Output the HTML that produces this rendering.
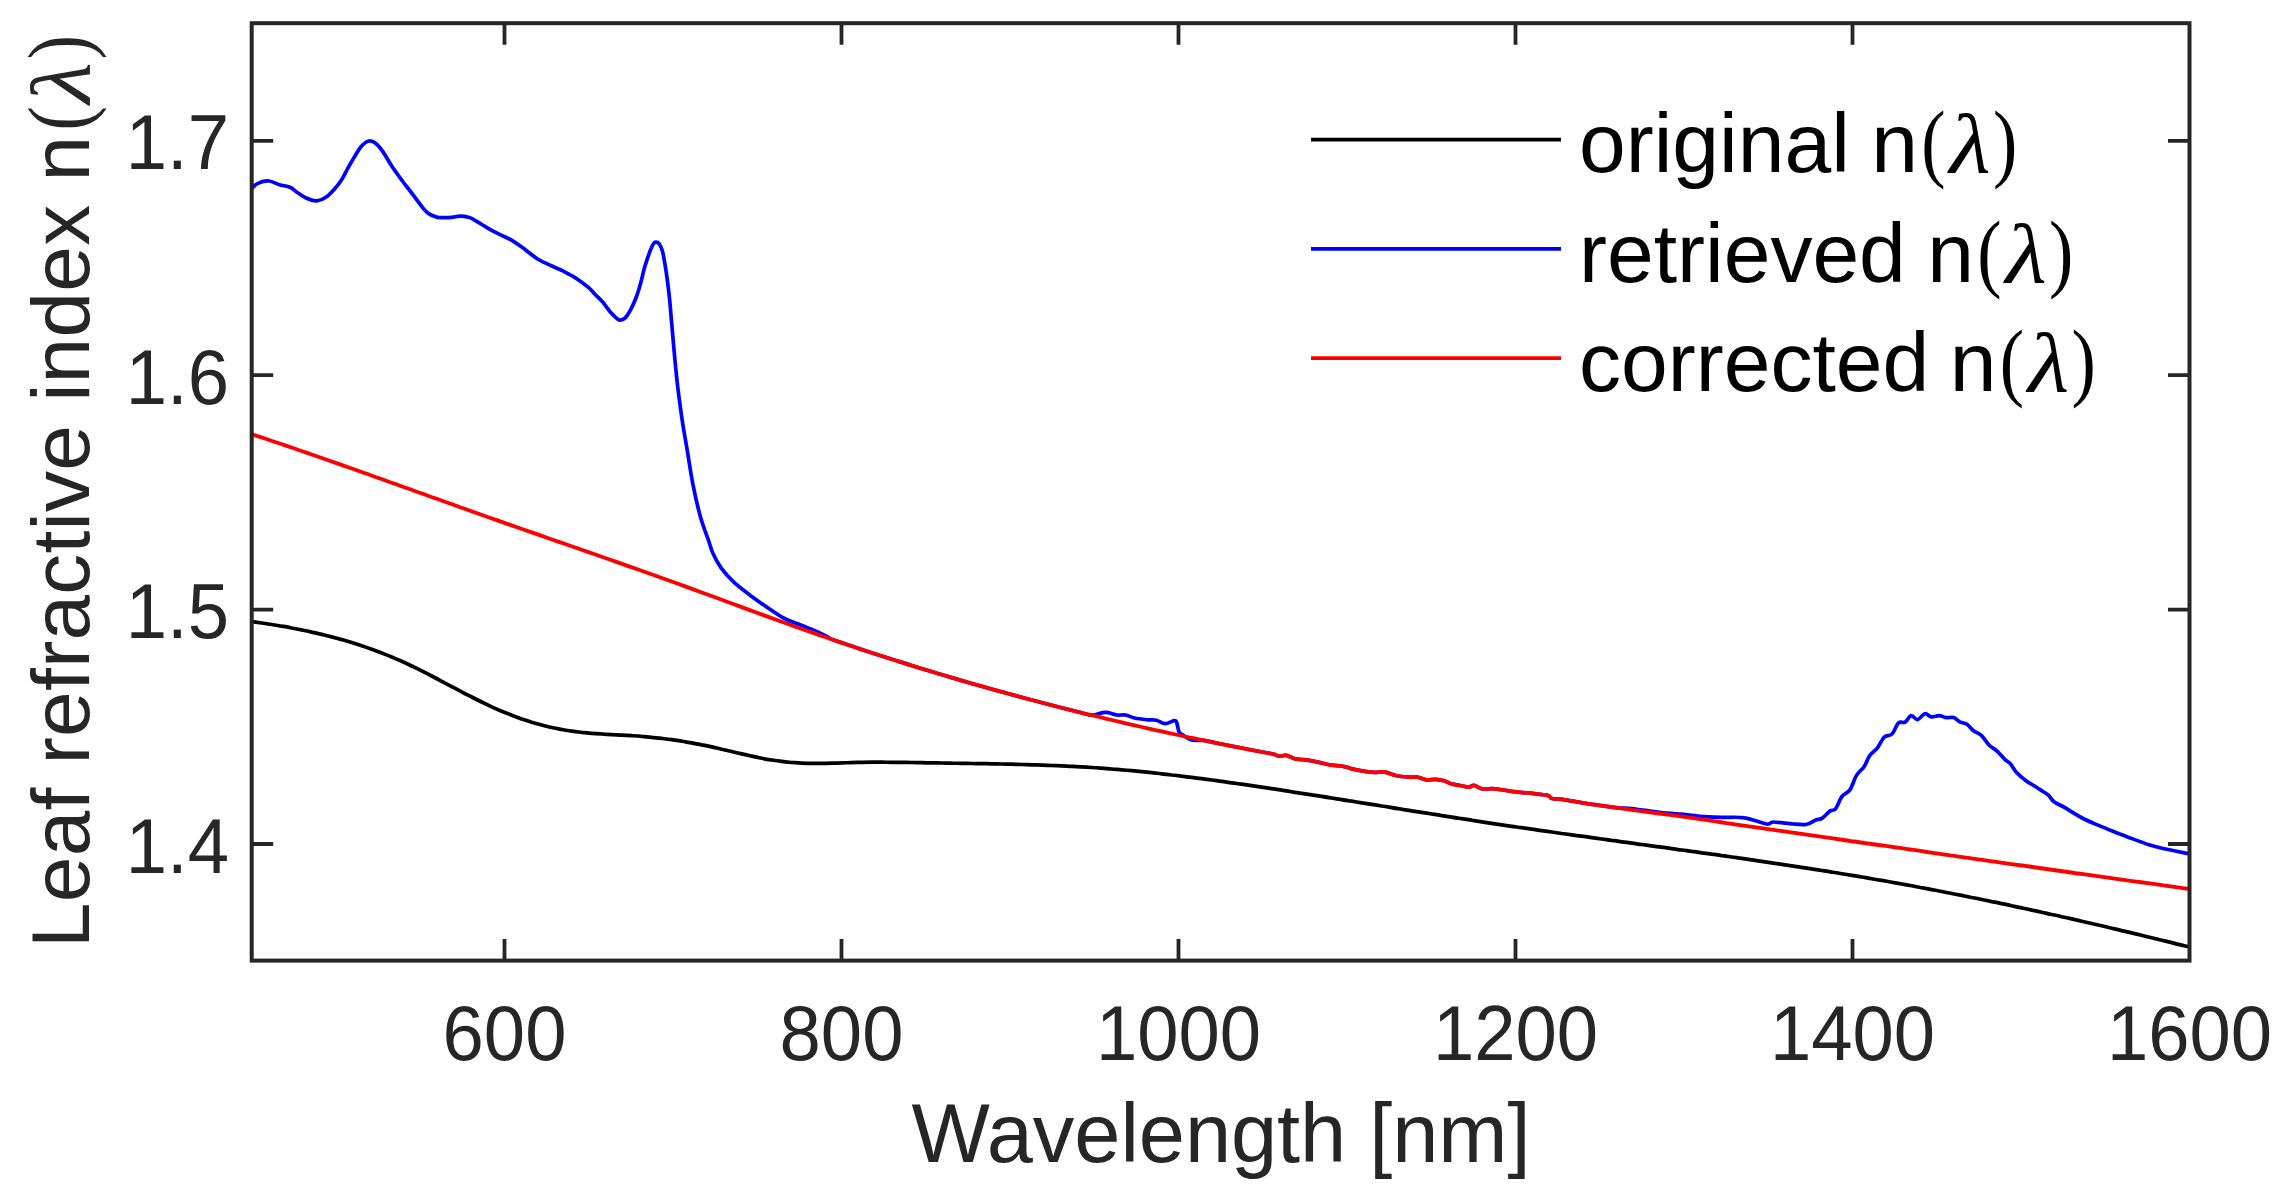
<!DOCTYPE html><html><head><meta charset="utf-8"><title>Leaf refractive index</title><style>html,body{margin:0;padding:0;background:#fff;}svg{display:block}</style></head><body>
<svg width="2283" height="1184" viewBox="0 0 2283 1184">
<rect width="2283" height="1184" fill="#fff"/>
<defs><clipPath id="ax"><rect x="251.7" y="23.2" width="1937.8" height="937.4"/></clipPath></defs>
<g clip-path="url(#ax)" fill="none" stroke-linejoin="round" stroke-linecap="butt">
<path d="M251.7,621.6 C253.4,621.8 258.4,622.5 261.7,623.0 C265.0,623.5 268.4,624.0 271.7,624.5 C275.0,625.0 278.4,625.6 281.7,626.2 C285.0,626.7 288.4,627.3 291.7,628.0 C295.0,628.6 298.4,629.2 301.7,629.9 C305.0,630.6 308.4,631.3 311.7,632.1 C315.0,632.8 318.4,633.6 321.7,634.4 C325.0,635.2 328.4,636.0 331.7,636.9 C335.0,637.8 338.4,638.7 341.7,639.6 C345.0,640.6 348.4,641.6 351.7,642.6 C355.0,643.6 358.4,644.7 361.7,645.8 C365.0,646.9 368.4,648.1 371.7,649.3 C375.0,650.5 378.4,651.7 381.7,653.0 C385.0,654.3 388.4,655.6 391.7,657.0 C395.0,658.4 398.4,659.9 401.7,661.3 C405.0,662.8 408.4,664.4 411.7,666.0 C415.0,667.6 418.4,669.2 421.7,670.9 C425.0,672.6 428.4,674.3 431.7,676.0 C435.0,677.7 438.4,679.5 441.7,681.3 C445.0,683.0 448.4,684.8 451.7,686.6 C455.0,688.3 458.4,690.1 461.7,691.8 C465.0,693.6 468.4,695.3 471.7,697.0 C475.0,698.7 478.4,700.4 481.7,702.0 C485.0,703.6 488.4,705.2 491.7,706.8 C495.0,708.3 498.4,709.8 501.7,711.2 C505.0,712.6 508.4,713.9 511.7,715.2 C515.0,716.5 518.4,717.7 521.7,718.9 C525.0,720.0 528.4,721.1 531.7,722.2 C535.0,723.2 538.4,724.1 541.7,725.0 C545.0,725.9 548.4,726.8 551.7,727.5 C555.0,728.3 558.4,728.9 561.7,729.5 C565.0,730.1 568.4,730.7 571.7,731.1 C575.0,731.6 578.4,732.0 581.7,732.4 C585.0,732.7 588.4,733.0 591.7,733.3 C595.0,733.6 598.4,733.8 601.7,734.0 C605.0,734.2 608.4,734.4 611.7,734.6 C615.0,734.8 618.4,734.9 621.7,735.1 C625.0,735.3 628.4,735.5 631.7,735.7 C635.0,735.9 638.4,736.1 641.7,736.4 C645.0,736.6 648.4,736.9 651.7,737.3 C655.0,737.6 658.4,738.0 661.7,738.4 C665.0,738.8 668.4,739.2 671.7,739.7 C675.0,740.2 678.4,740.7 681.7,741.2 C685.0,741.8 688.4,742.3 691.7,742.9 C695.0,743.6 698.4,744.2 701.7,744.9 C705.0,745.5 708.4,746.2 711.7,746.9 C715.0,747.7 718.4,748.4 721.7,749.2 C725.0,749.9 728.4,750.7 731.7,751.5 C735.0,752.3 738.4,753.1 741.7,753.9 C745.0,754.7 748.4,755.4 751.7,756.1 C755.0,756.9 758.4,757.6 761.7,758.2 C765.0,758.9 768.4,759.5 771.7,760.0 C775.0,760.5 778.4,761.0 781.7,761.4 C785.0,761.8 788.4,762.2 791.7,762.5 C795.0,762.7 798.4,763.0 801.7,763.1 C805.0,763.3 808.4,763.4 811.7,763.4 C815.0,763.5 818.4,763.4 821.7,763.4 C825.0,763.4 828.4,763.3 831.7,763.2 C835.0,763.1 838.4,763.0 841.7,762.9 C845.0,762.8 848.4,762.7 851.7,762.6 C855.0,762.5 858.4,762.4 861.7,762.3 C865.0,762.3 868.4,762.3 871.7,762.2 C875.0,762.2 878.4,762.2 881.7,762.2 C885.0,762.2 888.4,762.3 891.7,762.3 C895.0,762.3 898.4,762.4 901.7,762.4 C905.0,762.4 908.4,762.5 911.7,762.5 C915.0,762.6 918.4,762.7 921.7,762.7 C925.0,762.8 928.4,762.8 931.7,762.9 C935.0,762.9 938.4,763.0 941.7,763.0 C945.0,763.1 948.4,763.1 951.7,763.2 C955.0,763.2 958.4,763.3 961.7,763.3 C965.0,763.4 968.4,763.4 971.7,763.5 C975.0,763.5 978.4,763.6 981.7,763.6 C985.0,763.7 988.4,763.7 991.7,763.8 C995.0,763.9 998.4,763.9 1001.7,764.0 C1005.0,764.1 1008.4,764.1 1011.7,764.2 C1015.0,764.3 1018.4,764.4 1021.7,764.5 C1025.0,764.6 1028.4,764.7 1031.7,764.8 C1035.0,764.9 1038.4,765.0 1041.7,765.1 C1045.0,765.2 1048.4,765.3 1051.7,765.5 C1055.0,765.6 1058.4,765.8 1061.7,765.9 C1065.0,766.1 1068.4,766.2 1071.7,766.4 C1075.0,766.6 1078.4,766.7 1081.7,766.9 C1085.0,767.1 1088.4,767.3 1091.7,767.5 C1095.0,767.8 1098.4,768.0 1101.7,768.2 C1105.0,768.5 1108.4,768.7 1111.7,769.0 C1115.0,769.3 1118.4,769.5 1121.7,769.8 C1125.0,770.1 1128.4,770.4 1131.7,770.7 C1135.0,771.0 1138.4,771.4 1141.7,771.7 C1145.0,772.0 1148.4,772.4 1151.7,772.7 C1155.0,773.1 1158.4,773.4 1161.7,773.8 C1165.0,774.2 1168.4,774.6 1171.7,775.0 C1175.0,775.3 1178.4,775.7 1181.7,776.2 C1185.0,776.6 1188.4,777.0 1191.7,777.4 C1195.0,777.8 1198.4,778.3 1201.7,778.7 C1205.0,779.1 1208.4,779.6 1211.7,780.0 C1215.0,780.5 1218.4,780.9 1221.7,781.4 C1225.0,781.9 1228.4,782.3 1231.7,782.8 C1235.0,783.3 1238.4,783.7 1241.7,784.2 C1245.0,784.7 1248.4,785.2 1251.7,785.7 C1255.0,786.2 1258.4,786.7 1261.7,787.2 C1265.0,787.7 1268.4,788.2 1271.7,788.7 C1275.0,789.2 1278.4,789.7 1281.7,790.2 C1285.0,790.7 1288.4,791.2 1291.7,791.8 C1295.0,792.3 1298.4,792.8 1301.7,793.3 C1305.0,793.8 1308.4,794.4 1311.7,794.9 C1315.0,795.4 1318.4,795.9 1321.7,796.4 C1325.0,797.0 1328.4,797.5 1331.7,798.0 C1335.0,798.6 1338.4,799.1 1341.7,799.6 C1345.0,800.2 1348.4,800.7 1351.7,801.2 C1355.0,801.7 1358.4,802.3 1361.7,802.8 C1365.0,803.3 1368.4,803.9 1371.7,804.4 C1375.0,804.9 1378.4,805.5 1381.7,806.0 C1385.0,806.6 1388.4,807.1 1391.7,807.6 C1395.0,808.2 1398.4,808.7 1401.7,809.2 C1405.0,809.8 1408.4,810.3 1411.7,810.8 C1415.0,811.3 1418.4,811.9 1421.7,812.4 C1425.0,812.9 1428.4,813.5 1431.7,814.0 C1435.0,814.5 1438.4,815.0 1441.7,815.6 C1445.0,816.1 1448.4,816.6 1451.7,817.1 C1455.0,817.7 1458.4,818.2 1461.7,818.7 C1465.0,819.2 1468.4,819.7 1471.7,820.2 C1475.0,820.8 1478.4,821.3 1481.7,821.8 C1485.0,822.3 1488.4,822.8 1491.7,823.3 C1495.0,823.8 1498.4,824.3 1501.7,824.8 C1505.0,825.3 1508.4,825.8 1511.7,826.3 C1515.0,826.8 1518.4,827.2 1521.7,827.7 C1525.0,828.2 1528.4,828.7 1531.7,829.2 C1535.0,829.7 1538.4,830.1 1541.7,830.6 C1545.0,831.1 1548.4,831.6 1551.7,832.0 C1555.0,832.5 1558.4,833.0 1561.7,833.5 C1565.0,833.9 1568.4,834.4 1571.7,834.9 C1575.0,835.3 1578.4,835.8 1581.7,836.2 C1585.0,836.7 1588.4,837.2 1591.7,837.6 C1595.0,838.1 1598.4,838.6 1601.7,839.0 C1605.0,839.5 1608.4,839.9 1611.7,840.4 C1615.0,840.8 1618.4,841.3 1621.7,841.8 C1625.0,842.2 1628.4,842.7 1631.7,843.1 C1635.0,843.6 1638.4,844.0 1641.7,844.5 C1645.0,845.0 1648.4,845.4 1651.7,845.9 C1655.0,846.3 1658.4,846.8 1661.7,847.2 C1665.0,847.7 1668.4,848.2 1671.7,848.6 C1675.0,849.1 1678.4,849.5 1681.7,850.0 C1685.0,850.5 1688.4,850.9 1691.7,851.4 C1695.0,851.8 1698.4,852.3 1701.7,852.8 C1705.0,853.2 1708.4,853.7 1711.7,854.2 C1715.0,854.6 1718.4,855.1 1721.7,855.6 C1725.0,856.0 1728.4,856.5 1731.7,857.0 C1735.0,857.5 1738.4,857.9 1741.7,858.4 C1745.0,858.9 1748.4,859.4 1751.7,859.9 C1755.0,860.4 1758.4,860.8 1761.7,861.3 C1765.0,861.8 1768.4,862.3 1771.7,862.8 C1775.0,863.3 1778.4,863.8 1781.7,864.3 C1785.0,864.8 1788.4,865.3 1791.7,865.8 C1795.0,866.3 1798.4,866.8 1801.7,867.3 C1805.0,867.8 1808.4,868.4 1811.7,868.9 C1815.0,869.4 1818.4,869.9 1821.7,870.5 C1825.0,871.0 1828.4,871.5 1831.7,872.1 C1835.0,872.6 1838.4,873.1 1841.7,873.7 C1845.0,874.2 1848.4,874.8 1851.7,875.3 C1855.0,875.9 1858.4,876.4 1861.7,877.0 C1865.0,877.6 1868.4,878.1 1871.7,878.7 C1875.0,879.3 1878.4,879.9 1881.7,880.4 C1885.0,881.0 1888.4,881.6 1891.7,882.2 C1895.0,882.8 1898.4,883.4 1901.7,884.0 C1905.0,884.6 1908.4,885.2 1911.7,885.8 C1915.0,886.5 1918.4,887.1 1921.7,887.7 C1925.0,888.3 1928.4,889.0 1931.7,889.6 C1935.0,890.2 1938.4,890.9 1941.7,891.5 C1945.0,892.2 1948.4,892.8 1951.7,893.5 C1955.0,894.1 1958.4,894.8 1961.7,895.4 C1965.0,896.1 1968.4,896.8 1971.7,897.5 C1975.0,898.1 1978.4,898.8 1981.7,899.5 C1985.0,900.2 1988.4,900.9 1991.7,901.6 C1995.0,902.2 1998.4,902.9 2001.7,903.6 C2005.0,904.3 2008.4,905.0 2011.7,905.8 C2015.0,906.5 2018.4,907.2 2021.7,907.9 C2025.0,908.6 2028.4,909.3 2031.7,910.1 C2035.0,910.8 2038.4,911.5 2041.7,912.2 C2045.0,913.0 2048.4,913.7 2051.7,914.5 C2055.0,915.2 2058.4,915.9 2061.7,916.7 C2065.0,917.4 2068.4,918.2 2071.7,918.9 C2075.0,919.7 2078.4,920.5 2081.7,921.2 C2085.0,922.0 2088.4,922.8 2091.7,923.5 C2095.0,924.3 2098.4,925.1 2101.7,925.8 C2105.0,926.6 2108.4,927.4 2111.7,928.2 C2115.0,929.0 2118.4,929.8 2121.7,930.6 C2125.0,931.3 2128.4,932.1 2131.7,932.9 C2135.0,933.7 2138.4,934.5 2141.7,935.3 C2145.0,936.1 2148.4,936.9 2151.7,937.8 C2155.0,938.6 2158.4,939.4 2161.7,940.2 C2165.0,941.0 2168.4,941.8 2171.7,942.6 C2175.0,943.5 2178.7,944.4 2181.7,945.1 C2184.7,945.8 2188.2,946.7 2189.5,947.1" stroke="#000" stroke-width="3.7"/>
<path d="M251.7,188.5 C252.8,187.6 255.5,184.3 258.4,183.1 C261.3,181.8 265.4,180.7 268.9,181.0 C272.4,181.3 275.9,183.6 279.4,184.7 C282.9,185.8 287.0,186.0 290.0,187.3 C293.0,188.6 294.7,190.8 297.3,192.5 C299.9,194.2 302.6,196.4 305.7,197.8 C308.8,199.2 312.9,201.0 316.2,200.9 C319.5,200.8 322.7,199.2 325.7,197.3 C328.7,195.4 331.5,192.3 334.1,189.4 C336.7,186.5 339.2,183.4 341.5,179.9 C343.8,176.4 345.5,172.4 347.8,168.4 C350.1,164.4 352.8,159.4 355.1,155.7 C357.4,152.0 359.1,148.8 361.4,146.3 C363.7,143.9 366.3,141.4 368.8,141.0 C371.3,140.6 373.8,141.8 376.2,143.7 C378.6,145.6 380.9,148.8 383.5,152.6 C386.1,156.4 388.8,161.6 391.9,166.3 C395.0,171.0 398.9,176.3 402.4,181.0 C405.9,185.7 409.6,190.2 412.9,194.6 C416.2,199.0 419.8,204.1 422.4,207.3 C425.0,210.5 426.3,212.0 428.7,213.6 C431.1,215.2 434.2,216.4 436.6,217.1 C439.0,217.8 440.6,217.7 443.1,217.7 C445.7,217.7 449.1,217.6 451.9,217.3 C454.7,217.1 456.9,216.2 459.8,216.2 C462.7,216.2 467.0,216.9 469.4,217.5 C471.8,218.1 471.8,218.6 474.0,219.8 C476.2,221.1 479.7,223.3 482.6,225.0 C485.5,226.7 488.4,228.6 491.3,230.2 C494.2,231.8 496.5,232.8 500.1,234.6 C503.7,236.4 508.5,238.3 512.7,240.8 C516.9,243.3 521.1,246.6 525.3,249.7 C529.5,252.8 533.8,256.6 538.0,259.2 C542.2,261.8 546.5,263.5 550.7,265.5 C554.9,267.5 559.1,269.1 563.3,271.2 C567.5,273.3 571.8,275.4 576.0,278.2 C580.2,280.9 585.5,285.0 588.7,287.7 C591.9,290.4 592.6,291.9 595.0,294.3 C597.4,296.8 600.3,299.3 603.0,302.4 C605.7,305.5 608.3,309.9 611.0,312.8 C613.7,315.7 616.7,319.2 619.1,320.0 C621.5,320.8 623.5,319.5 625.5,317.6 C627.5,315.7 629.2,312.4 631.1,308.8 C633.0,305.2 635.1,300.3 636.7,296.0 C638.3,291.7 639.4,287.9 640.7,283.1 C642.0,278.3 643.2,272.2 644.7,267.1 C646.2,262.0 648.0,256.5 649.5,252.6 C651.0,248.7 652.4,245.5 653.5,243.8 C654.6,242.1 655.0,242.2 656.0,242.2 C657.0,242.2 658.1,242.3 659.2,243.8 C660.3,245.3 661.5,247.8 662.4,251.0 C663.3,254.2 664.0,258.4 664.8,263.1 C665.6,267.8 666.4,273.1 667.2,279.1 C668.0,285.1 668.9,292.4 669.6,299.2 C670.3,306.0 670.6,311.0 671.4,320.0 C672.2,329.0 673.3,342.0 674.3,353.0 C675.3,364.0 676.3,374.9 677.6,385.9 C678.9,396.9 680.4,407.9 682.0,418.9 C683.6,429.9 685.7,440.9 687.5,451.9 C689.3,462.9 690.8,473.8 693.0,484.8 C695.2,495.8 698.1,508.6 700.7,517.8 C703.3,527.0 706.4,534.2 708.4,540.0 C710.4,545.8 710.6,548.1 712.7,552.7 C714.8,557.4 717.6,563.0 721.1,567.9 C724.6,572.8 728.9,577.6 733.8,582.2 C738.7,586.8 745.1,591.5 750.7,595.7 C756.3,599.9 762.0,603.8 767.6,607.6 C773.2,611.4 778.9,615.5 784.5,618.5 C790.1,621.5 795.8,623.0 801.4,625.3 C807.0,627.6 813.4,629.9 818.2,632.1 C823.0,634.3 826.4,636.6 830.0,638.3 C833.6,640.0 835.8,640.7 839.7,642.1 C843.7,643.5 849.0,645.3 853.7,646.8 C858.4,648.4 863.0,649.9 867.7,651.5 C872.4,653.0 877.0,654.5 881.7,656.0 C886.4,657.5 891.0,659.0 895.7,660.5 C900.4,662.0 905.0,663.5 909.7,664.9 C914.4,666.4 919.0,667.8 923.7,669.2 C928.4,670.6 933.0,672.1 937.7,673.5 C942.4,674.9 947.0,676.2 951.7,677.6 C956.4,679.0 961.0,680.4 965.7,681.7 C970.4,683.1 975.0,684.4 979.7,685.7 C984.4,687.0 989.0,688.4 993.7,689.7 C998.4,691.0 1003.0,692.3 1007.7,693.5 C1012.4,694.8 1017.0,696.1 1021.7,697.3 C1026.4,698.6 1031.0,699.8 1035.7,701.0 C1040.4,702.3 1045.0,703.5 1049.7,704.7 C1054.4,705.9 1059.0,707.1 1063.7,708.3 C1068.4,709.5 1073.0,710.6 1077.7,711.8 C1082.4,712.9 1087.7,715.1 1091.7,715.2 C1095.8,715.4 1099.2,713.2 1102.0,712.8 C1104.8,712.4 1105.7,712.2 1108.2,712.6 C1110.7,713.0 1114.1,714.6 1117.0,715.0 C1119.9,715.4 1122.8,714.5 1125.7,715.0 C1128.6,715.5 1130.8,717.2 1134.5,718.0 C1138.2,718.8 1143.9,719.4 1147.6,719.8 C1151.2,720.2 1153.5,719.6 1156.4,720.2 C1159.3,720.9 1162.2,723.6 1165.1,723.7 C1168.0,723.8 1172.0,721.0 1173.9,720.7 C1175.8,720.4 1175.6,720.1 1176.5,722.0 C1177.4,723.9 1178.1,729.9 1179.1,732.0 C1180.1,734.1 1180.5,733.4 1182.6,734.7 C1184.6,736.0 1187.9,739.0 1191.4,740.0 C1194.9,741.0 1199.3,739.9 1203.7,740.4 C1208.1,741.0 1213.0,742.3 1217.7,743.3 C1222.4,744.2 1227.0,745.2 1231.7,746.1 C1236.4,747.0 1241.0,747.9 1245.7,748.8 C1250.4,749.7 1255.1,750.7 1259.7,751.5 C1264.3,752.4 1269.8,753.2 1273.1,754.0 C1276.4,754.8 1277.1,756.0 1279.3,756.2 C1281.5,756.4 1283.7,754.9 1286.3,755.3 C1288.9,755.7 1292.1,758.1 1295.0,758.8 C1297.9,759.5 1300.1,759.2 1303.8,759.7 C1307.5,760.2 1312.5,761.0 1316.9,761.9 C1321.3,762.8 1325.7,764.3 1330.1,765.0 C1334.5,765.7 1339.5,765.6 1343.2,766.3 C1346.9,766.9 1349.1,768.2 1352.0,768.9 C1354.9,769.6 1357.0,770.1 1360.7,770.7 C1364.4,771.3 1370.0,772.2 1373.9,772.4 C1377.9,772.6 1380.8,771.5 1384.4,772.0 C1388.1,772.5 1391.7,774.6 1395.8,775.5 C1399.9,776.4 1405.2,776.9 1408.9,777.2 C1412.6,777.5 1414.8,776.8 1417.7,777.2 C1420.6,777.7 1423.5,779.5 1426.4,779.9 C1429.3,780.3 1432.3,779.3 1435.2,779.4 C1438.1,779.5 1441.4,780.0 1444.0,780.7 C1446.6,781.4 1448.3,783.0 1451.0,783.8 C1453.7,784.6 1457.0,785.0 1460.0,785.5 C1463.0,786.0 1466.5,787.1 1468.8,787.1 C1471.1,787.1 1471.8,785.0 1474.0,785.3 C1476.2,785.6 1478.4,788.2 1481.9,788.8 C1485.4,789.4 1489.9,788.3 1495.0,788.8 C1500.1,789.2 1506.8,790.8 1512.6,791.5 C1518.4,792.2 1524.3,792.6 1530.1,793.2 C1535.9,793.9 1543.9,794.5 1547.6,795.4 C1551.2,796.3 1549.1,797.8 1552.0,798.5 C1554.9,799.2 1560.0,799.1 1565.1,799.8 C1570.2,800.5 1576.8,801.9 1582.6,802.9 C1588.4,803.9 1594.3,804.7 1600.2,805.5 C1606.1,806.3 1612.9,807.4 1617.7,807.9 C1622.5,808.4 1623.4,807.8 1628.8,808.3 C1634.2,808.8 1643.0,810.1 1650.0,811.0 C1657.0,811.9 1665.6,812.9 1670.8,813.4 C1676.0,813.9 1676.5,813.7 1681.4,814.2 C1686.3,814.7 1693.4,815.8 1700.0,816.3 C1706.6,816.8 1713.4,817.1 1720.8,817.4 C1728.2,817.6 1736.8,816.7 1744.5,817.8 C1752.2,818.9 1762.0,823.3 1766.8,824.0 C1771.6,824.7 1769.0,822.0 1773.4,822.0 C1777.8,822.0 1787.6,823.6 1793.1,824.0 C1798.6,824.4 1802.8,824.9 1806.6,824.3 C1810.4,823.6 1813.2,821.1 1815.8,820.1 C1818.4,819.1 1819.9,819.6 1822.3,818.1 C1824.7,816.6 1828.0,812.4 1830.2,810.9 C1832.4,809.4 1833.5,811.3 1835.5,808.9 C1837.5,806.5 1839.6,799.6 1842.0,796.4 C1844.4,793.2 1847.5,793.4 1849.9,789.9 C1852.3,786.4 1854.1,779.3 1856.5,775.4 C1858.9,771.5 1862.2,769.5 1864.4,766.2 C1866.6,762.9 1867.4,758.8 1869.6,755.7 C1871.8,752.6 1875.1,750.9 1877.5,747.8 C1879.9,744.7 1881.7,739.6 1884.1,737.3 C1886.5,735.0 1889.6,736.4 1892.0,734.0 C1894.4,731.6 1896.4,724.9 1898.6,722.9 C1900.8,720.9 1903.0,723.4 1905.1,722.2 C1907.2,721.0 1908.9,716.0 1911.0,715.6 C1913.1,715.2 1915.3,719.9 1917.6,719.6 C1919.9,719.3 1922.5,714.2 1924.8,713.7 C1927.1,713.2 1929.0,716.6 1931.4,716.9 C1933.8,717.2 1936.9,715.5 1939.3,715.6 C1941.7,715.7 1943.5,717.3 1945.9,717.6 C1948.3,717.9 1951.3,716.8 1953.7,717.6 C1956.1,718.4 1958.1,721.1 1960.3,722.2 C1962.5,723.3 1964.7,722.8 1966.9,724.2 C1969.1,725.6 1971.1,728.9 1973.5,730.7 C1975.9,732.6 1978.7,732.9 1981.3,735.3 C1983.9,737.7 1986.6,742.6 1989.2,745.2 C1991.8,747.8 1994.5,748.7 1997.1,751.1 C1999.7,753.5 2002.8,757.5 2005.0,759.6 C2007.2,761.7 2008.2,761.4 2010.2,763.6 C2012.2,765.8 2014.2,769.9 2016.8,772.8 C2019.4,775.6 2022.7,778.3 2026.0,780.7 C2029.3,783.1 2033.7,785.4 2036.5,787.2 C2039.3,789.0 2041.0,790.2 2043.0,791.5 C2045.0,792.8 2046.5,793.5 2048.4,795.2 C2050.3,797.0 2051.6,799.9 2054.4,802.0 C2057.2,804.1 2060.7,805.2 2065.3,807.9 C2069.9,810.6 2076.6,815.0 2082.2,818.0 C2087.8,821.0 2092.8,822.9 2099.1,825.6 C2105.4,828.3 2115.3,832.1 2120.2,834.1 C2125.1,836.1 2123.8,835.6 2128.7,837.4 C2133.6,839.2 2143.5,843.0 2149.8,845.0 C2156.1,847.0 2160.1,847.8 2166.7,849.3 C2173.3,850.8 2185.7,853.1 2189.5,853.9" stroke="#0000ff" stroke-width="3.7"/>
<path d="M251.7,434.2 C254.0,435.0 261.0,437.3 265.7,438.8 C270.4,440.4 275.0,442.0 279.7,443.5 C284.4,445.1 289.0,446.7 293.7,448.3 C298.4,449.9 303.0,451.5 307.7,453.1 C312.4,454.7 317.0,456.4 321.7,458.0 C326.4,459.6 331.0,461.2 335.7,462.9 C340.4,464.5 345.0,466.2 349.7,467.8 C354.4,469.5 359.0,471.1 363.7,472.8 C368.4,474.4 373.0,476.1 377.7,477.8 C382.4,479.4 387.0,481.1 391.7,482.8 C396.4,484.4 401.0,486.1 405.7,487.8 C410.4,489.4 415.0,491.1 419.7,492.8 C424.4,494.4 429.0,496.1 433.7,497.8 C438.4,499.4 443.0,501.1 447.7,502.8 C452.4,504.4 457.0,506.1 461.7,507.8 C466.4,509.4 471.0,511.1 475.7,512.7 C480.4,514.4 485.0,516.0 489.7,517.7 C494.4,519.3 499.0,521.0 503.7,522.6 C508.4,524.3 513.0,525.9 517.7,527.5 C522.4,529.1 527.0,530.8 531.7,532.4 C536.4,534.0 541.0,535.6 545.7,537.3 C550.4,538.9 555.0,540.5 559.7,542.1 C564.4,543.7 569.0,545.4 573.7,547.0 C578.4,548.6 583.0,550.2 587.7,551.9 C592.4,553.5 597.0,555.1 601.7,556.7 C606.4,558.4 611.0,560.0 615.7,561.6 C620.4,563.3 625.0,564.9 629.7,566.6 C634.4,568.2 639.0,569.9 643.7,571.5 C648.4,573.2 653.0,574.8 657.7,576.5 C662.4,578.2 667.0,579.8 671.7,581.5 C676.4,583.2 681.0,584.9 685.7,586.6 C690.4,588.3 695.0,590.0 699.7,591.7 C704.4,593.4 709.0,595.1 713.7,596.8 C718.4,598.6 723.0,600.3 727.7,602.0 C732.4,603.7 737.0,605.4 741.7,607.1 C746.4,608.9 751.0,610.6 755.7,612.3 C760.4,614.0 765.0,615.7 769.7,617.4 C774.4,619.1 779.0,620.8 783.7,622.5 C788.4,624.1 793.0,625.8 797.7,627.5 C802.4,629.1 807.0,630.8 811.7,632.4 C816.4,634.1 821.0,635.7 825.7,637.3 C830.4,638.9 835.0,640.5 839.7,642.1 C844.4,643.7 849.0,645.3 853.7,646.8 C858.4,648.4 863.0,649.9 867.7,651.5 C872.4,653.0 877.0,654.5 881.7,656.0 C886.4,657.5 891.0,659.0 895.7,660.5 C900.4,662.0 905.0,663.5 909.7,664.9 C914.4,666.4 919.0,667.8 923.7,669.2 C928.4,670.6 933.0,672.1 937.7,673.5 C942.4,674.9 947.0,676.2 951.7,677.6 C956.4,679.0 961.0,680.4 965.7,681.7 C970.4,683.1 975.0,684.4 979.7,685.7 C984.4,687.0 989.0,688.4 993.7,689.7 C998.4,691.0 1003.0,692.3 1007.7,693.5 C1012.4,694.8 1017.0,696.1 1021.7,697.3 C1026.4,698.6 1031.0,699.8 1035.7,701.0 C1040.4,702.3 1045.0,703.5 1049.7,704.7 C1054.4,705.9 1059.0,707.1 1063.7,708.3 C1068.4,709.5 1073.0,710.6 1077.7,711.8 C1082.4,712.9 1087.0,714.1 1091.7,715.2 C1096.4,716.4 1101.0,717.5 1105.7,718.6 C1110.4,719.7 1115.0,720.8 1119.7,721.9 C1124.4,723.0 1129.0,724.1 1133.7,725.2 C1138.4,726.2 1143.0,727.3 1147.7,728.3 C1152.4,729.4 1157.0,730.4 1161.7,731.4 C1166.4,732.5 1171.0,733.5 1175.7,734.5 C1180.4,735.5 1185.0,736.5 1189.7,737.5 C1194.4,738.5 1199.0,739.5 1203.7,740.4 C1208.4,741.4 1213.0,742.3 1217.7,743.3 C1222.4,744.2 1227.0,745.2 1231.7,746.1 C1236.4,747.0 1241.0,747.9 1245.7,748.8 C1250.4,749.7 1255.1,750.7 1259.7,751.5 C1264.3,752.4 1269.8,753.2 1273.1,754.0 C1276.4,754.8 1277.1,756.0 1279.3,756.2 C1281.5,756.4 1283.7,754.9 1286.3,755.3 C1288.9,755.7 1292.1,758.1 1295.0,758.8 C1297.9,759.5 1300.1,759.2 1303.8,759.7 C1307.5,760.2 1312.5,761.0 1316.9,761.9 C1321.3,762.8 1325.7,764.3 1330.1,765.0 C1334.5,765.7 1339.5,765.6 1343.2,766.3 C1346.9,766.9 1349.1,768.2 1352.0,768.9 C1354.9,769.6 1357.0,770.1 1360.7,770.7 C1364.4,771.3 1370.0,772.2 1373.9,772.4 C1377.9,772.6 1380.8,771.5 1384.4,772.0 C1388.1,772.5 1391.7,774.6 1395.8,775.5 C1399.9,776.4 1405.2,776.9 1408.9,777.2 C1412.6,777.5 1414.8,776.8 1417.7,777.2 C1420.6,777.7 1423.5,779.5 1426.4,779.9 C1429.3,780.3 1432.3,779.3 1435.2,779.4 C1438.1,779.5 1441.4,780.0 1444.0,780.7 C1446.6,781.4 1448.3,783.0 1451.0,783.8 C1453.7,784.6 1457.0,785.0 1460.0,785.5 C1463.0,786.0 1466.5,787.1 1468.8,787.1 C1471.1,787.1 1471.8,785.0 1474.0,785.3 C1476.2,785.6 1478.4,788.2 1481.9,788.8 C1485.4,789.4 1489.9,788.3 1495.0,788.8 C1500.1,789.2 1506.8,790.8 1512.6,791.5 C1518.4,792.2 1524.3,792.6 1530.1,793.2 C1535.9,793.9 1543.9,794.5 1547.6,795.4 C1551.2,796.3 1549.1,797.8 1552.0,798.5 C1554.9,799.2 1560.0,799.1 1565.1,799.8 C1570.2,800.5 1576.8,801.9 1582.6,802.9 C1588.4,803.9 1594.3,804.7 1600.2,805.5 C1606.1,806.3 1611.9,807.1 1617.7,807.9 C1623.5,808.7 1629.0,809.4 1635.2,810.3 C1641.4,811.1 1649.0,812.2 1655.1,813.0 C1661.2,813.8 1666.8,814.5 1672.0,815.2 C1677.2,815.9 1681.3,816.5 1686.0,817.2 C1690.7,817.9 1695.3,818.5 1700.0,819.2 C1704.7,819.9 1709.3,820.6 1714.0,821.2 C1718.7,821.9 1723.3,822.6 1728.0,823.3 C1732.7,823.9 1737.3,824.6 1742.0,825.3 C1746.7,826.0 1751.3,826.6 1756.0,827.3 C1760.7,828.0 1765.3,828.7 1770.0,829.3 C1774.7,830.0 1779.3,830.7 1784.0,831.4 C1788.7,832.0 1793.3,832.7 1798.0,833.4 C1802.7,834.1 1807.3,834.7 1812.0,835.4 C1816.7,836.1 1821.3,836.8 1826.0,837.4 C1830.7,838.1 1835.3,838.8 1840.0,839.5 C1844.7,840.1 1849.3,840.8 1854.0,841.5 C1858.7,842.1 1863.3,842.8 1868.0,843.5 C1872.7,844.2 1877.3,844.8 1882.0,845.5 C1886.7,846.2 1891.3,846.9 1896.0,847.5 C1900.7,848.2 1905.3,848.9 1910.0,849.5 C1914.7,850.2 1919.3,850.9 1924.0,851.5 C1928.7,852.2 1933.3,852.9 1938.0,853.6 C1942.7,854.2 1947.3,854.9 1952.0,855.6 C1956.7,856.2 1961.3,856.9 1966.0,857.6 C1970.7,858.2 1975.3,858.9 1980.0,859.6 C1984.7,860.2 1989.3,860.9 1994.0,861.6 C1998.7,862.2 2003.3,862.9 2008.0,863.6 C2012.7,864.2 2017.3,864.9 2022.0,865.5 C2026.7,866.2 2031.3,866.9 2036.0,867.5 C2040.7,868.2 2045.3,868.8 2050.0,869.5 C2054.7,870.2 2059.3,870.8 2064.0,871.5 C2068.7,872.1 2073.3,872.8 2078.0,873.5 C2082.7,874.1 2087.3,874.8 2092.0,875.4 C2096.7,876.1 2101.3,876.7 2106.0,877.4 C2110.7,878.0 2115.3,878.7 2120.0,879.3 C2124.7,880.0 2129.3,880.6 2134.0,881.3 C2138.7,881.9 2143.3,882.6 2148.0,883.2 C2152.7,883.9 2157.3,884.5 2162.0,885.2 C2166.7,885.8 2171.4,886.5 2176.0,887.1 C2180.6,887.8 2187.2,888.7 2189.5,889.0" stroke="#ff0000" stroke-width="3.8"/>
</g>
<path d="M504.5,960.6V939.1M504.5,23.2V44.7M841.5,960.6V939.1M841.5,23.2V44.7M1178.5,960.6V939.1M1178.5,23.2V44.7M1515.5,960.6V939.1M1515.5,23.2V44.7M1852.5,960.6V939.1M1852.5,23.2V44.7M251.7,844.0H273.2M2189.5,844.0H2168.0M251.7,609.6H273.2M2189.5,609.6H2168.0M251.7,375.2H273.2M2189.5,375.2H2168.0M251.7,140.8H273.2M2189.5,140.8H2168.0" stroke="#262626" stroke-width="3.8" fill="none"/>
<rect x="251.7" y="23.2" width="1937.8" height="937.4" fill="none" stroke="#262626" stroke-width="4"/>
<g font-family="'Liberation Sans', Arial, Helvetica, sans-serif" font-size="78" fill="#262626">
<text id="xt600" x="504.5" y="1059.8" text-anchor="middle" textLength="123.9" lengthAdjust="spacingAndGlyphs">600</text>
<text id="xt800" x="841.5" y="1059.8" text-anchor="middle" textLength="123.9" lengthAdjust="spacingAndGlyphs">800</text>
<text id="xt1000" x="1178.5" y="1059.8" text-anchor="middle" textLength="165.2" lengthAdjust="spacingAndGlyphs">1000</text>
<text id="xt1200" x="1515.5" y="1059.8" text-anchor="middle" textLength="165.2" lengthAdjust="spacingAndGlyphs">1200</text>
<text id="xt1400" x="1852.5" y="1059.8" text-anchor="middle" textLength="165.2" lengthAdjust="spacingAndGlyphs">1400</text>
<text id="xt1600" x="2189.5" y="1059.8" text-anchor="middle" textLength="165.2" lengthAdjust="spacingAndGlyphs">1600</text>
<text id="yt14" x="229.0" y="872.6" text-anchor="end" textLength="103.2" lengthAdjust="spacingAndGlyphs">1.4</text>
<text id="yt15" x="229.0" y="638.2" text-anchor="end" textLength="103.2" lengthAdjust="spacingAndGlyphs">1.5</text>
<text id="yt16" x="229.0" y="403.8" text-anchor="end" textLength="103.2" lengthAdjust="spacingAndGlyphs">1.6</text>
<text id="yt17" x="229.0" y="169.4" text-anchor="end" textLength="103.2" lengthAdjust="spacingAndGlyphs">1.7</text>
</g>
<text id="xlab" x="1221.0" y="1162.0" text-anchor="middle" font-family="'Liberation Sans', Arial, Helvetica, sans-serif" font-size="83" fill="#262626" textLength="619.0">Wavelength [nm]</text>
<g transform="rotate(-90)" fill="#262626">
<text id="ylab_s" x="-948.0" y="88.8" font-family="'Liberation Sans', Arial, Helvetica, sans-serif" font-size="82" textLength="812.0">Leaf refractive index n</text>
<text id="ylab_lp" x="-130.5" y="87.7" font-family="'Liberation Serif', 'Times New Roman', serif" font-size="86" textLength="24.3" lengthAdjust="spacingAndGlyphs">(</text>
<text id="ylab_lam" x="-103.6" y="88.8" font-family="'Liberation Serif', 'Times New Roman', serif" font-style="italic" font-size="85" textLength="41.2" lengthAdjust="spacingAndGlyphs">λ</text>
<text id="ylab_rp" x="-59.2" y="87.7" font-family="'Liberation Serif', 'Times New Roman', serif" font-size="86" textLength="24.3" lengthAdjust="spacingAndGlyphs">)</text>
</g>
<line x1="1311.0" y1="139.60" x2="1561.0" y2="139.60" stroke="#000000" stroke-width="3.8"/>
<g fill="#000">
<text id="l1w" x="1579.0" y="172.3" font-family="'Liberation Sans', Arial, Helvetica, sans-serif" font-size="84">original</text>
<text id="l1n" x="1871.3" y="172.3" font-family="'Liberation Sans', Arial, Helvetica, sans-serif" font-size="84">n</text>
<text id="l1lp" x="1921.3" y="171.2" font-family="'Liberation Serif', 'Times New Roman', serif" font-size="86" textLength="24.3" lengthAdjust="spacingAndGlyphs">(</text>
<text id="l1lam" x="1949.5" y="172.3" font-family="'Liberation Serif', 'Times New Roman', serif" font-style="italic" font-size="85" textLength="41.2" lengthAdjust="spacingAndGlyphs">λ</text>
<text id="l1rp" x="1993.1" y="171.2" font-family="'Liberation Serif', 'Times New Roman', serif" font-size="86" textLength="24.3" lengthAdjust="spacingAndGlyphs">)</text>
</g>
<line x1="1311.0" y1="248.90" x2="1561.0" y2="248.90" stroke="#0000ff" stroke-width="3.8"/>
<g fill="#000">
<text id="l2w" x="1579.0" y="281.6" font-family="'Liberation Sans', Arial, Helvetica, sans-serif" font-size="84">retrieved</text>
<text id="l2n" x="1927.3" y="281.6" font-family="'Liberation Sans', Arial, Helvetica, sans-serif" font-size="84">n</text>
<text id="l2lp" x="1977.3" y="280.5" font-family="'Liberation Serif', 'Times New Roman', serif" font-size="86" textLength="24.3" lengthAdjust="spacingAndGlyphs">(</text>
<text id="l2lam" x="2005.5" y="281.6" font-family="'Liberation Serif', 'Times New Roman', serif" font-style="italic" font-size="85" textLength="41.2" lengthAdjust="spacingAndGlyphs">λ</text>
<text id="l2rp" x="2049.1" y="280.5" font-family="'Liberation Serif', 'Times New Roman', serif" font-size="86" textLength="24.3" lengthAdjust="spacingAndGlyphs">)</text>
</g>
<line x1="1311.0" y1="358.20" x2="1561.0" y2="358.20" stroke="#ff0000" stroke-width="3.8"/>
<g fill="#000">
<text id="l3w" x="1579.0" y="390.9" font-family="'Liberation Sans', Arial, Helvetica, sans-serif" font-size="84">corrected</text>
<text id="l3n" x="1949.8" y="390.9" font-family="'Liberation Sans', Arial, Helvetica, sans-serif" font-size="84">n</text>
<text id="l3lp" x="1999.8" y="389.8" font-family="'Liberation Serif', 'Times New Roman', serif" font-size="86" textLength="24.3" lengthAdjust="spacingAndGlyphs">(</text>
<text id="l3lam" x="2028.0" y="390.9" font-family="'Liberation Serif', 'Times New Roman', serif" font-style="italic" font-size="85" textLength="41.2" lengthAdjust="spacingAndGlyphs">λ</text>
<text id="l3rp" x="2071.6" y="389.8" font-family="'Liberation Serif', 'Times New Roman', serif" font-size="86" textLength="24.3" lengthAdjust="spacingAndGlyphs">)</text>
</g>
</svg></body></html>
